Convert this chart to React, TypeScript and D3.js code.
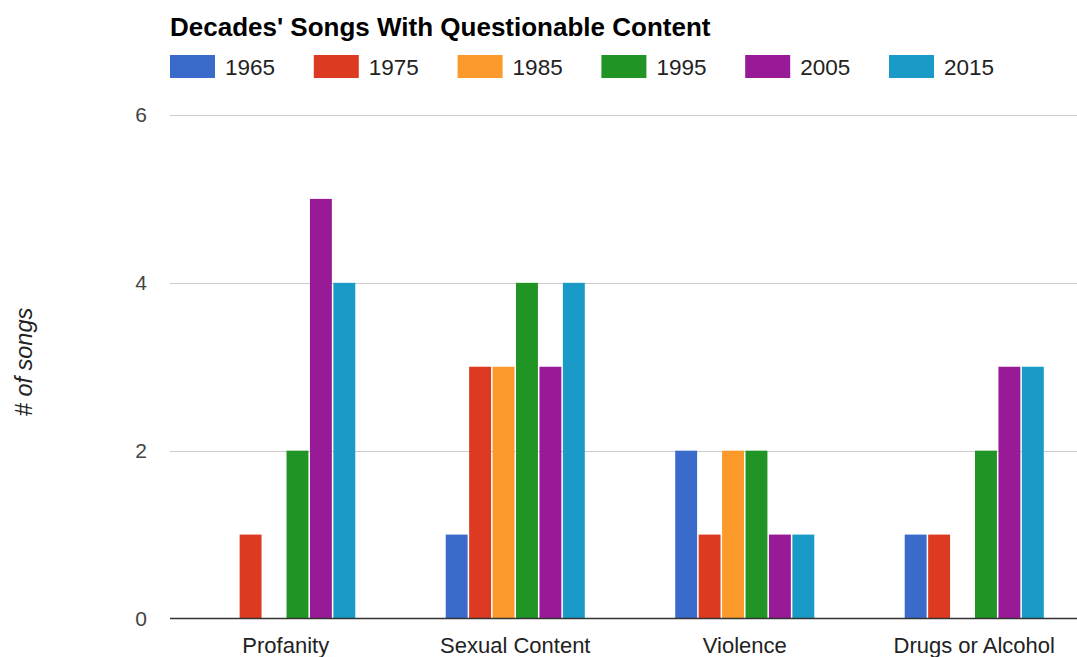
import React from "react";
import * as d3 from "d3";

const categories = ["Profanity", "Sexual Content", "Violence", "Drugs or Alcohol"];
const seriesNames = ["1965", "1975", "1985", "1995", "2005", "2015"];
const seriesColors = ["#3a6bcb", "#dc3b22", "#fb9a2a", "#209424", "#981a96", "#1a9ac6"];
const v1965 = [0, 1, 2, 1];
const v1975 = [1, 3, 1, 1];
const v1985 = [0, 3, 2, 0];
const v1995 = [2, 4, 2, 2];
const v2005 = [5, 3, 1, 3];
const v2015 = [4, 4, 1, 3];
const yTicks = [0, 2, 4, 6];
const title = "Decades' Songs With Questionable Content";
const yTitle = "# of songs";

const seriesValues = [v1965, v1975, v1985, v1995, v2005, v2015];

const W = 1077;
const H = 657;
const FONT = "'Liberation Sans', Arial, Helvetica, sans-serif";

export default function App() {
  const x0 = d3
    .scaleBand<string>()
    .domain(categories)
    .range([171, 1089])
    .paddingInner(0.394)
    .paddingOuter(0.197);
  const x1 = d3
    .scaleBand<string>()
    .domain(seriesNames)
    .range([0, x0.bandwidth()])
    .paddingInner(0.065)
    .paddingOuter(0);
  const y = d3.scaleLinear().domain([0, 6]).range([618.5, 115]);

  return (
    <svg
      width={W}
      height={H}
      style={{ position: "absolute", left: 0, top: 0, background: "#fff" }}
      fontFamily={FONT}
    >
      <rect x={0} y={0} width={W} height={H} fill="#fff" />
      <text x={170} y={36} fontSize={26} fontWeight="bold" fill="#000">
        {title}
      </text>
      {seriesNames.map((s, i) => (
        <g key={s} transform={`translate(${170 + i * 143.8},0)`}>
          <rect x={0} y={55} width={45} height={23} fill={seriesColors[i]} />
          <text x={55} y={75} fontSize={22.5} fill="#222">
            {s}
          </text>
        </g>
      ))}
      {yTicks.map((t) => (
        <g key={t}>
          {t !== 0 && (
            <line x1={170} x2={W} y1={Math.round(y(t)) + 0.5} y2={Math.round(y(t)) + 0.5} stroke="#cccccc" strokeWidth={1} />
          )}
          <text x={147} y={y(t)} dy="0.35em" textAnchor="end" fontSize={21} fill="#444">
            {t}
          </text>
        </g>
      ))}
      <text
        transform={`translate(32,362) rotate(-90)`}
        textAnchor="middle"
        fontSize={23.5}
        fontStyle="italic"
        fill="#222"
      >
        {yTitle}
      </text>
      {categories.map((c, ci) => (
        <g key={c} transform={`translate(${x0(c)},0)`}>
          {seriesNames.map((s, si) => {
            const v = seriesValues[si][ci];
            if (v <= 0) return null;
            return (
              <rect
                key={s}
                x={x1(s)}
                y={y(v)}
                width={x1.bandwidth()}
                height={y(0) - y(v)}
                fill={seriesColors[si]}
              />
            );
          })}
          <text x={x0.bandwidth() / 2} y={653} textAnchor="middle" fontSize={22} fill="#222">
            {c}
          </text>
        </g>
      ))}
      <line x1={170} x2={W} y1={618.5} y2={618.5} stroke="#333" strokeWidth={1.5} />
    </svg>
  );
}
